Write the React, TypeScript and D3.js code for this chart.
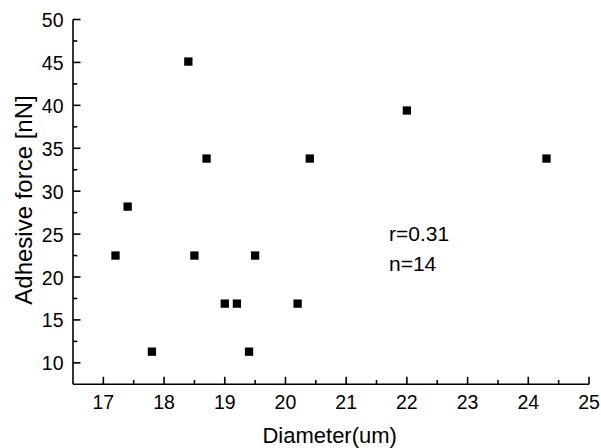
import React from "react";
import * as d3 from "d3";

const diameters = [17.2, 17.4, 17.8, 18.4, 18.5, 18.7, 19.0, 19.2, 19.4, 19.5, 20.2, 20.4, 22.0, 24.3];
const forces = [22.5, 28.2, 11.3, 45.1, 22.5, 33.8, 16.9, 16.9, 11.3, 22.5, 16.9, 33.8, 39.4, 33.8];
const xTicks = [17, 18, 19, 20, 21, 22, 23, 24, 25];
const yTicks = [10, 15, 20, 25, 30, 35, 40, 45, 50];
const annotations = ["r=0.31", "n=14"];

const W = 601;
const H = 448;
const left = 73;
const right = 589;
const top = 19.5;
const bottom = 384.3;
const FONT = "'Liberation Sans', Arial, sans-serif";

export default function App() {
  const x = d3.scaleLinear().domain([16.5, 25]).range([left, right]);
  const y = d3.scaleLinear().domain([7.5, 50]).range([bottom, top]);
  const xMinor = d3.range(17.5, 25, 1);
  const yMinor = d3.range(12.5, 50, 5);
  const s = 8.3;
  return (
    <svg width={W} height={H} style={{ position: "absolute", left: 0, top: 0, background: "#fff" }}>
      <rect x={0} y={0} width={W} height={H} fill="#fff" />
      <line x1={left} x2={right} y1={bottom} y2={bottom} stroke="#000" strokeWidth={1.6} />
      <line x1={left} x2={left} y1={top} y2={bottom} stroke="#000" strokeWidth={1.6} />
      {xTicks.map((t) => (
        <g key={"xt" + t}>
          <line x1={x(t)} x2={x(t)} y1={bottom} y2={bottom - 7.5} stroke="#000" strokeWidth={1.6} />
          <text x={x(t)} y={408.5} textAnchor="middle" fontFamily={FONT} fontSize={19.5} fill="#000">
            {t}
          </text>
        </g>
      ))}
      {xMinor.map((t) => (
        <line key={"xm" + t} x1={x(t)} x2={x(t)} y1={bottom} y2={bottom - 4.3} stroke="#000" strokeWidth={1.6} />
      ))}
      {yTicks.map((t) => (
        <g key={"yt" + t}>
          <line x1={left} x2={left + 7.5} y1={y(t)} y2={y(t)} stroke="#000" strokeWidth={1.6} />
          <text x={63.5} y={y(t) + 7.5} textAnchor="end" fontFamily={FONT} fontSize={19.5} fill="#000">
            {t}
          </text>
        </g>
      ))}
      {yMinor.map((t) => (
        <line key={"ym" + t} x1={left} x2={left + 4.3} y1={y(t)} y2={y(t)} stroke="#000" strokeWidth={1.6} />
      ))}
      {diameters.map((d, i) => (
        <rect key={"p" + i} x={x(d) - s / 2} y={y(forces[i]) - s / 2} width={s} height={s} fill="#000" />
      ))}
      {annotations.map((a, i) => (
        <text key={a} x={389} y={240.7 + i * 30} fontFamily={FONT} fontSize={21} fill="#000">
          {a}
        </text>
      ))}
      <text x={329.7} y={442.5} textAnchor="middle" fontFamily={FONT} fontSize={22} fill="#000">
        Diameter(um)
      </text>
      <text
        transform="translate(32,200) rotate(-90)"
        textAnchor="middle"
        fontFamily={FONT}
        fontSize={24}
        fill="#000"
      >
        Adhesive force [nN]
      </text>
    </svg>
  );
}
